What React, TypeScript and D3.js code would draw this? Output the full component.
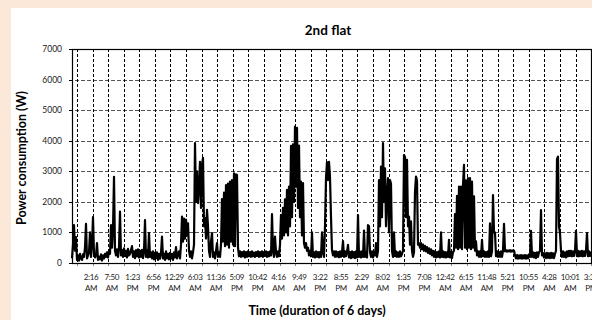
import React, { useEffect, useRef } from "react";
import { select, scaleLinear, line, range } from "d3";

const width = 592;
const height = 320;
const plotLeft = 72;
const plotRight = 591;
const plotTop = 49;
const plotBottom = 263;
const font = "Lato, 'Open Sans', sans-serif";

const yTicks = [0, 1000, 2000, 3000, 4000, 5000, 6000, 7000];
const timeLabels = [
  "2:16", "7:50", "1:23", "6:56", "12:29", "6:03", "11:36", "5:09", "10:42",
  "4:16", "9:49", "3:22", "8:55", "2:29", "8:02", "1:35", "7:08", "12:42",
  "6:15", "11:48", "5:21", "10:55", "4:28", "10:01", "3:35",
];
const ampmLabels = [
  "AM", "AM", "PM", "PM", "AM", "AM", "AM", "PM", "PM",
  "AM", "AM", "PM", "PM", "AM", "AM", "PM", "PM", "AM",
  "AM", "AM", "PM", "PM", "AM", "AM", "PM",
];
const sampleMinutes = 16;
const firstLabelMinute = 304;
const labelStepMinutes = 333.33;
const firstGridMinute = 80;
const gridStepMinutes = 249.3;
const gridCount = 34;

// power readings (W), one every 16 minutes
const powerW = [
  150, 600, 1240, 400, 850, 100, 250, 80, 300, 150,
  100, 280, 200, 500, 1280, 150, 250, 350, 1000, 200,
  600, 1500, 300, 180, 250, 650, 100, 200, 120, 280,
  80, 250, 150, 300, 200, 350, 180, 400,
  300, 1240, 500, 1100, 2820, 400, 250, 450, 200, 500,
  1680, 250, 420, 200, 480, 230, 400, 180, 460, 250,
  300, 420, 550, 200, 380, 160, 420, 220, 450, 180,
  400, 200, 430, 160, 380, 1400, 200, 420, 180, 980,
  200, 350, 150, 380, 120, 330, 160, 350, 100, 300,
  140, 320, 860, 150, 300, 100, 380, 150, 300, 120,
  330, 150, 300, 100, 350, 180, 520, 150, 300, 380,
  150, 600, 1520, 700, 1450, 800, 1420, 900, 1300, 400,
  200, 380, 150, 350, 600, 3920, 2000, 3000, 1960, 2500,
  3310, 1800, 3200, 3440, 1200, 1470, 800, 1740, 1200, 400,
  200, 700, 980, 200, 350, 150, 380, 650, 200, 350,
  200, 600, 2090, 700, 2300, 550, 2550, 600, 2600, 500,
  2660, 700, 2710, 600, 2930, 550, 2900, 2880, 500, 220,
  380, 200, 360, 220, 380, 180, 360, 200, 380, 220,
  360, 200, 380, 220, 340, 200, 360, 230, 380, 200,
  360, 220, 380, 200, 360, 230, 380, 200, 360, 220,
  380, 250, 1600, 400, 200, 860, 350, 200, 380, 220,
  600, 1570, 800, 1800, 900, 2080, 1000, 2390, 900, 2500,
  1200, 3830, 1500, 3880, 2000, 4460, 2500, 4420, 1800, 3840,
  1500, 2660, 900, 2610, 650, 500, 650, 400, 500, 250,
  400, 220, 1000, 200, 350, 180, 380, 200, 360, 180,
  360, 200, 1000, 350, 200, 1200, 2780, 3300, 2710, 3310,
  2800, 1500, 420, 250, 380, 200, 380, 210, 360, 190,
  380, 200, 350, 720, 200, 380, 220, 360, 590, 180,
  360, 160, 380, 180, 360, 160, 380, 180, 1570, 200,
  370, 180, 380, 200, 1060, 200, 350, 180, 1240, 1200,
  350, 200, 380, 180, 360, 250, 650, 200, 400, 2710,
  1200, 3150, 1500, 3920, 2000, 3100, 1200, 2200, 2780, 1000,
  2710, 2600, 400, 200, 1000, 220, 380, 200, 350, 200,
  380, 220, 300, 400, 3530, 3470, 1500, 3370, 1200, 1520,
  600, 1360, 400, 200, 350, 2330, 2830, 2700, 600, 650,
  500, 650, 450, 600, 400, 560, 380, 520, 330, 480,
  300, 450, 250, 400, 200, 380, 180, 360, 200, 380,
  180, 1000, 200, 380, 190, 360, 180, 350, 200, 760,
  180, 350, 160, 360, 400, 1600, 500, 2200, 450, 2500,
  500, 2500, 450, 2550, 3210, 500, 2700, 450, 2780, 500,
  2780, 450, 2660, 500, 2180, 400, 710, 250, 380, 200,
  380, 200, 760, 220, 380, 200, 360, 200, 380, 200,
  1300, 220, 380, 2220, 1000, 1000, 220, 380, 200, 360,
  200, 380, 200, 400, 1280, 380, 420, 370, 410, 380,
  420, 370, 410, 380, 400, 250, 150, 260, 140, 250,
  150, 260, 140, 250, 150, 260, 140, 250, 150, 280,
  200, 1050, 200, 350, 180, 330, 160, 350, 200, 350,
  400, 1730, 250, 330, 180, 320, 160, 330, 170, 320,
  160, 330, 170, 320, 160, 300, 400, 3400, 3480, 1200,
  980, 400, 200, 380, 200, 350, 180, 380, 220, 400,
  230, 400, 220, 380, 230, 400, 1050, 220, 400, 220,
  380, 230, 400, 220, 380, 230, 400, 980, 220, 380,
  230, 380,
];

const PowerChart = () => {
  const svgRef = useRef<SVGSVGElement>(null);

  useEffect(() => {
    const svg = select(svgRef.current);
    svg.selectAll("*").remove();

    const xScale = scaleLinear()
      .domain([0, (powerW.length - 1) * sampleMinutes])
      .range([plotLeft, plotRight]);
    const yScale = scaleLinear().domain([0, 7000]).range([plotBottom, plotTop]);

    svg.append("rect").attr("width", width).attr("height", height).attr("fill", "#fce8d8");
    svg
      .append("rect")
      .attr("x", 11)
      .attr("y", 8)
      .attr("width", width - 11)
      .attr("height", height - 8)
      .attr("fill", "#fff");

    // horizontal grid
    svg
      .append("g")
      .selectAll("line")
      .data(yTicks.slice(1, -1))
      .join("line")
      .attr("x1", plotLeft - 3)
      .attr("x2", plotRight)
      .attr("y1", (d) => Math.round(yScale(d)) + 0.5)
      .attr("y2", (d) => Math.round(yScale(d)) + 0.5)
      .attr("stroke", "#555")
      .attr("stroke-dasharray", "4,2");

    const gridMinutes = range(gridCount).map((k) => firstGridMinute + k * gridStepMinutes);

    // vertical grid
    svg
      .append("g")
      .selectAll("line")
      .data(gridMinutes.slice(0, -1))
      .join("line")
      .attr("x1", (d) => Math.round(xScale(d)) + 0.5)
      .attr("x2", (d) => Math.round(xScale(d)) + 0.5)
      .attr("y1", plotTop)
      .attr("y2", plotBottom)
      .attr("stroke", "#000")
      .attr("stroke-dasharray", "3,2");

    // x tick marks
    svg
      .append("g")
      .selectAll("line")
      .data(gridMinutes)
      .join("line")
      .attr("x1", (d) => Math.round(xScale(d)) + 0.5)
      .attr("x2", (d) => Math.round(xScale(d)) + 0.5)
      .attr("y1", plotBottom)
      .attr("y2", plotBottom + 3)
      .attr("stroke", "#888");

    // y tick marks
    svg
      .append("g")
      .selectAll("line")
      .data(yTicks)
      .join("line")
      .attr("x1", plotLeft - 3)
      .attr("x2", plotLeft)
      .attr("y1", (d) => Math.round(yScale(d)) + 0.5)
      .attr("y2", (d) => Math.round(yScale(d)) + 0.5)
      .attr("stroke", "#000");

    const powerLine = line<number>()
      .x((d, i) => xScale(i * sampleMinutes))
      .y((d) => yScale(d));

    svg
      .append("path")
      .datum(powerW)
      .attr("fill", "none")
      .attr("stroke", "#000")
      .attr("stroke-width", 2.2)
      .attr("stroke-linejoin", "round")
      .attr("d", powerLine);

    // plot frame
    svg
      .append("rect")
      .attr("x", plotLeft + 0.5)
      .attr("y", plotTop + 0.5)
      .attr("width", plotRight - plotLeft)
      .attr("height", plotBottom - plotTop)
      .attr("fill", "none")
      .attr("stroke", "#000")
      .attr("stroke-width", 1.2);

    // y labels
    svg
      .append("g")
      .selectAll("text")
      .data(yTicks)
      .join("text")
      .attr("x", 62)
      .attr("y", (d) => yScale(d))
      .attr("dy", "0.35em")
      .attr("text-anchor", "end")
      .attr("font-family", font)
      .attr("font-size", 8.5)
      .attr("fill", "#222")
      .text((d) => d);

    // x labels
    const xLabels = svg
      .append("g")
      .selectAll("text")
      .data(timeLabels)
      .join("text")
      .attr("text-anchor", "middle")
      .attr("font-family", font)
      .attr("font-size", 8)
      .attr("letter-spacing", -0.3)
      .attr("fill", "#222");
    xLabels
      .append("tspan")
      .attr("x", (d, i) => xScale(firstLabelMinute + i * labelStepMinutes))
      .attr("y", 279.5)
      .text((d) => d);
    xLabels
      .append("tspan")
      .attr("x", (d, i) => xScale(firstLabelMinute + i * labelStepMinutes))
      .attr("y", 290.5)
      .text((d, i) => ampmLabels[i]);

    svg
      .append("text")
      .attr("x", 328)
      .attr("y", 35)
      .attr("text-anchor", "middle")
      .attr("font-family", font)
      .attr("font-weight", "bold")
      .attr("font-size", 13.5)
      .text("2nd flat");

    svg
      .append("text")
      .attr("transform", "translate(26,158) rotate(-90)")
      .attr("text-anchor", "middle")
      .attr("font-family", font)
      .attr("font-weight", "bold")
      .attr("font-size", 12.5)
      .text("Power consumption (W)");

    svg
      .append("text")
      .attr("x", 317)
      .attr("y", 315)
      .attr("text-anchor", "middle")
      .attr("font-family", font)
      .attr("font-weight", "bold")
      .attr("font-size", 12.5)
      .text("Time (duration of 6 days)");
  }, []);

  return (
    <div style={{ position: "absolute", left: 0, top: 0 }}>
      <svg ref={svgRef} width={width} height={height} style={{ display: "block" }} />
    </div>
  );
};

export default function App() {
  return <PowerChart />;
}
